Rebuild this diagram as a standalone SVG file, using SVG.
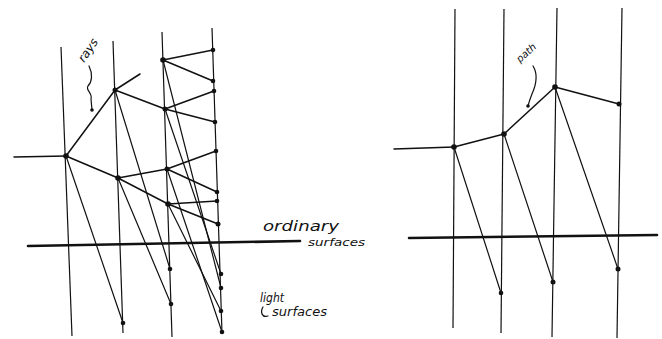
<svg xmlns="http://www.w3.org/2000/svg" width="662" height="339" viewBox="0 0 662 339">
<style>
.surf{stroke:#111;stroke-width:1.2;fill:none}
.floor{stroke:#111;stroke-width:2.6;fill:none;stroke-linecap:round}
.ray{stroke:#111;stroke-width:1.5;fill:none;stroke-linecap:round}
.thin{stroke:#111;stroke-width:1.2;fill:none;stroke-linecap:round}
.dot{fill:#111}
.lbl{font-family:"DejaVu Sans","Liberation Sans",sans-serif;font-style:italic;fill:#111}
</style>
<rect width="662" height="339" fill="#fff"/>

<g id="surfaces-left">
<line class="surf" x1="61" y1="47" x2="72" y2="336"/>
<line class="surf" x1="113" y1="41" x2="123" y2="333"/>
<line class="surf" x1="162" y1="32" x2="172" y2="337"/>
<line class="surf" x1="212" y1="28" x2="222" y2="333"/>
<line class="floor" x1="28" y1="246" x2="300" y2="241"/>
</g>

<g id="surfaces-right">
<line class="surf" x1="455" y1="9" x2="453" y2="328"/>
<line class="surf" x1="504" y1="9" x2="501" y2="333"/>
<line class="surf" x1="557" y1="8" x2="552" y2="337"/>
<line class="surf" x1="622" y1="8" x2="617" y2="338"/>
<line class="floor" x1="409" y1="238" x2="657" y2="235"/>
</g>

<g id="connectors">
<!-- left tree -->
<line class="ray" x1="14" y1="157" x2="66" y2="156"/>
<line class="ray" x1="66" y1="156" x2="115" y2="90"/>
<line class="ray" x1="66" y1="156" x2="118" y2="178"/>
<line class="thin" x1="66" y1="156" x2="123" y2="323"/>
<line class="ray" x1="115" y1="90" x2="140" y2="74"/>
<line class="ray" x1="115" y1="90" x2="165" y2="109"/>
<line class="thin" x1="115" y1="90" x2="170" y2="269"/>
<line class="ray" x1="163" y1="60" x2="213" y2="50"/>
<line class="ray" x1="163" y1="60" x2="213" y2="81"/>
<line class="ray" x1="165" y1="109" x2="214" y2="91"/>
<line class="ray" x1="165" y1="109" x2="215" y2="122"/>
<line class="ray" x1="118" y1="178" x2="167" y2="169"/>
<line class="ray" x1="118" y1="178" x2="168" y2="204"/>
<line class="thin" x1="118" y1="178" x2="171" y2="304"/>
<line class="ray" x1="167" y1="169" x2="216" y2="151"/>
<line class="ray" x1="167" y1="169" x2="217" y2="192"/>
<line class="ray" x1="168" y1="204" x2="217" y2="201"/>
<line class="ray" x1="168" y1="204" x2="218" y2="224"/>
<line class="thin" x1="163" y1="60" x2="221" y2="288"/>
<line class="thin" x1="165" y1="109" x2="221" y2="274"/>
<line class="thin" x1="167" y1="169" x2="222" y2="332"/>
<line class="thin" x1="168" y1="204" x2="221" y2="311"/>
<!-- right path -->
<line class="ray" x1="394" y1="149" x2="454" y2="147"/>
<line class="ray" x1="454" y1="147" x2="504" y2="134"/>
<line class="ray" x1="504" y1="134" x2="555" y2="87"/>
<line class="ray" x1="555" y1="87" x2="619" y2="104"/>
<line class="thin" x1="454" y1="147" x2="501" y2="293"/>
<line class="thin" x1="504" y1="134" x2="553" y2="282"/>
<line class="thin" x1="555" y1="87" x2="618" y2="269"/>
</g>

<g id="nodes-left" class="dot">
<circle cx="66" cy="156" r="2.8"/>
<circle cx="115" cy="90" r="2.5"/>
<circle cx="118" cy="178" r="2.8"/>
<circle cx="123" cy="323" r="2.3"/>
<circle cx="163" cy="60" r="2.8"/>
<circle cx="165" cy="109" r="2.5"/>
<circle cx="167" cy="169" r="2.5"/>
<circle cx="168" cy="204" r="2.8"/>
<circle cx="170" cy="269" r="2.3"/>
<circle cx="171" cy="304" r="2.3"/>
<circle cx="213" cy="50" r="2.3"/>
<circle cx="213" cy="81" r="2.3"/>
<circle cx="214" cy="91" r="2.3"/>
<circle cx="215" cy="122" r="2.3"/>
<circle cx="216" cy="151" r="2.3"/>
<circle cx="217" cy="192" r="2.3"/>
<circle cx="217" cy="201" r="2.3"/>
<circle cx="218" cy="224" r="2.5"/>
<circle cx="221" cy="274" r="2.3"/>
<circle cx="221" cy="288" r="2.3"/>
<circle cx="221" cy="311" r="2.3"/>
<circle cx="222" cy="332" r="2.3"/>
</g>

<g id="nodes-right" class="dot">
<circle cx="454" cy="147" r="2.8"/>
<circle cx="504" cy="134" r="2.8"/>
<circle cx="555" cy="87" r="2.8"/>
<circle cx="619" cy="104" r="2.5"/>
<circle cx="501" cy="293" r="2.3"/>
<circle cx="553" cy="282" r="2.5"/>
<circle cx="618" cy="269" r="2.5"/>
</g>

<g id="label-rays">
<text class="lbl" font-size="12" transform="translate(84,63) rotate(-55)">rays</text>
<path class="thin" d="M89,66 C93,74 92,82 88,86 C85,90 93,93 91,99 L92,110"/>
<circle class="dot" cx="92" cy="110" r="1.8"/>
</g>

<g id="label-path">
<text class="lbl" font-size="10" transform="translate(520,63) rotate(-42)">path</text>
<path class="thin" d="M533,66 C538,74 536,85 532,94 C530,99 529,102 528,106"/>
<circle class="dot" cx="528" cy="106" r="1.8"/>
</g>

<g id="label-ordinary">
<text class="lbl" font-size="14" x="263" y="231" textLength="76" lengthAdjust="spacingAndGlyphs">ordinary</text>
<text class="lbl" font-size="11" x="308" y="246" textLength="57" lengthAdjust="spacingAndGlyphs">surfaces</text>
</g>

<g id="label-light">
<text class="lbl" font-size="13" x="260" y="302" textLength="24" lengthAdjust="spacingAndGlyphs">light</text>
<path class="thin" d="M263,307 C260,312 262,318 268,316"/>
<text class="lbl" font-size="12" x="272" y="316" textLength="55" lengthAdjust="spacingAndGlyphs">surfaces</text>
</g>
</svg>
